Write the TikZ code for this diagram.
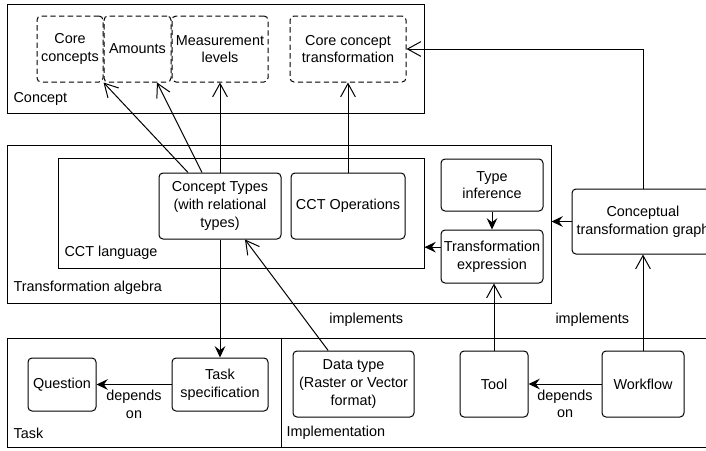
\documentclass[tikz,border=0pt]{standalone}
\usepackage{fontspec}
\setmainfont{Liberation Sans}
\usetikzlibrary{arrows.meta}

\begin{document}
\begin{tikzpicture}[x=0.75pt, y=-0.75pt,
    every node/.style={align=center, font=\fontsize{10.8}{13.2}\selectfont, inner sep=1pt},
    group/.style={draw, rectangle, line width=0.75pt},
    box/.style={draw, rectangle, rounded corners=3pt, line width=0.75pt},
    dbox/.style={box, dash pattern=on 4pt off 2.5pt},
    grouplabel/.style={anchor=west},
    opentip/.style={-{Straight Barb[length=10pt,width=11pt]}, line width=0.75pt},
    filledtip/.style={-{Stealth[length=8.5pt,width=8pt,inset=3pt]}, line width=0.75pt}]
    \useasboundingbox (0,0) rectangle (706,450);
    \clip (0,0) rectangle (706,450);

    % Concept layer
    \node[group, minimum width=312.75pt, minimum height=81.75pt] (concept) at (215.5,58.5) {};
    \node[grouplabel] at (12,99) {Concept};
    \node[dbox, minimum width=49.5pt, minimum height=49.5pt] (core) at (70,49) {Core\\concepts};
    \node[dbox, minimum width=50.25pt, minimum height=49.5pt] (amounts) at (137.5,49) {Amounts};
    \node[dbox, minimum width=72pt, minimum height=49.5pt] (levels) at (220,49) {Measurement\\levels};
    \node[dbox, minimum width=87pt, minimum height=49.5pt] (cct) at (348,49) {Core concept\\transformation};

    % Transformation algebra layer
    \node[group, minimum width=408pt, minimum height=118.5pt] (algebra) at (279,224) {};
    \node[grouplabel] at (12,288) {Transformation algebra};
    \node[group, minimum width=274.5pt, minimum height=82.5pt] (language) at (241,213) {};
    \node[grouplabel] at (63,253) {CCT language};
    \node[box, minimum width=91.5pt, minimum height=49.5pt] (types) at (220,206) {Concept Types\\(with relational\\types)};
    \node[box, minimum width=85.5pt, minimum height=49.5pt] (operations) at (348,206) {CCT Operations};
    \node[box, minimum width=76.5pt, minimum height=39pt] (inference) at (492,185) {Type\\inference};
    \node[box, minimum width=76.5pt, minimum height=39.75pt] (expression) at (492,256.5) {Transformation\\expression};
    \node[box, minimum width=106.5pt, minimum height=48.75pt] (graph) at (643,221.5) {Conceptual\\transformation graph};

    % Task and implementation layers
    \node[group, minimum width=205.5pt, minimum height=81.75pt] (task) at (144,392.5) {};
    \node[grouplabel] at (12,433) {Task};
    \node[group, minimum width=325.5pt, minimum height=81.75pt] (implementation) at (498,392.5) {};
    \node[grouplabel] at (285,433) {Implementation};
    \node[box, minimum width=51pt, minimum height=39.75pt] (question) at (62,384.5) {Question};
    \node[box, minimum width=72pt, minimum height=39.75pt] (specification) at (220,384.5) {Task\\specification};
    \node[box, minimum width=90.75pt, minimum height=49.5pt] (datatype) at (353.5,384) {Data type\\(Raster or Vector\\format)};
    \node[box, minimum width=51pt, minimum height=49.5pt] (tool) at (494,384) {Tool};
    \node[box, minimum width=61.5pt, minimum height=49.5pt] (workflow) at (643,384) {Workflow};

    % Open arrows
    \draw[opentip] ([xshift=-24pt]types.north) -- (core.south east);
    \draw[opentip] ([xshift=-13.5pt]types.north) -- ([xshift=14.6pt]amounts.south);
    \draw[opentip] (types.north) -- (levels.south);
    \draw[opentip] (operations.north) -- (cct.south);
    \draw[opentip] (graph.north) |- (cct.east);
    \draw[opentip] ([xshift=-19pt]datatype.north) -- node[pos=0.28, right=17pt] {implements} ([xshift=18.75pt]types.south);
    \draw[opentip] (tool.north) -- (tool.north |- expression.south);
    \draw[opentip] (workflow.north) -- node[pos=0.32, left=9pt] {implements} (graph.south);

    % Filled arrows
    \draw[filledtip] (types.south) -- (specification.north);
    \draw[filledtip] (specification.west) -- node[midway, below=3pt] {depends\\on} (question.east);
    \draw[filledtip] (workflow.west) -- node[midway, below=3pt] {depends\\on} (tool.east);
    \draw[filledtip] (inference.south) -- (expression.north);
    \draw[filledtip] ([yshift=7pt]expression.west) -- ([yshift=7pt]expression.west -| language.east);
    \draw[filledtip] (graph.west) -- (graph.west -| algebra.east);
\end{tikzpicture}
\end{document}
